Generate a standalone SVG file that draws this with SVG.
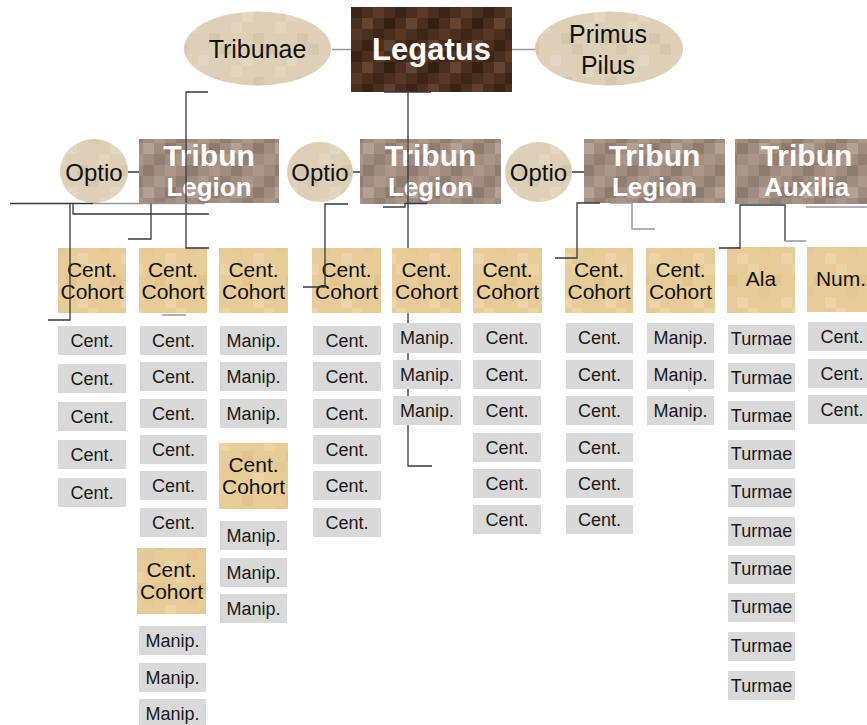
<svg xmlns="http://www.w3.org/2000/svg" width="867" height="725" viewBox="0 0 867 725">
<defs>
<pattern id="pLeg" patternUnits="userSpaceOnUse" x="351" y="7" width="44" height="44">
<rect width="44" height="44" fill="#4a2f1e"/>
<rect x="0" y="0" width="11" height="11" fill="#3b2416"/><rect x="22" y="0" width="11" height="11" fill="#5b3b26"/>
<rect x="11" y="11" width="11" height="11" fill="#654430"/><rect x="33" y="11" width="11" height="11" fill="#34200f"/>
<rect x="0" y="22" width="11" height="11" fill="#573824"/><rect x="22" y="22" width="11" height="11" fill="#3d2617"/>
<rect x="11" y="33" width="11" height="11" fill="#3a2313"/><rect x="33" y="33" width="11" height="11" fill="#604030"/>
</pattern>
<pattern id="pTrib" patternUnits="userSpaceOnUse" width="44" height="44">
<rect width="44" height="44" fill="#a08d80"/>
<rect x="0" y="0" width="11" height="11" fill="#917e72"/><rect x="22" y="0" width="11" height="11" fill="#ac998c"/>
<rect x="11" y="11" width="11" height="11" fill="#b3a195"/><rect x="33" y="11" width="11" height="11" fill="#8e7a6e"/>
<rect x="0" y="22" width="11" height="11" fill="#a99689"/><rect x="22" y="22" width="11" height="11" fill="#937f73"/>
<rect x="11" y="33" width="11" height="11" fill="#8f7c70"/><rect x="33" y="33" width="11" height="11" fill="#ab988b"/>
</pattern>
<pattern id="pOval" patternUnits="userSpaceOnUse" width="44" height="44">
<rect width="44" height="44" fill="#ddd0b6"/>
<rect x="0" y="0" width="11" height="11" fill="#d6c8ad"/><rect x="22" y="11" width="11" height="11" fill="#e3d7c1"/>
<rect x="11" y="22" width="11" height="11" fill="#e2d6bf"/><rect x="33" y="33" width="11" height="11" fill="#d5c7ab"/>
</pattern>
<pattern id="pCoh" patternUnits="userSpaceOnUse" width="44" height="44">
<rect width="44" height="44" fill="#e8cc97"/>
<rect x="0" y="0" width="11" height="11" fill="#ecd3a2"/><rect x="22" y="11" width="11" height="11" fill="#e3c48c"/>
<rect x="11" y="22" width="11" height="11" fill="#e5c995"/><rect x="33" y="33" width="11" height="11" fill="#edd4a6"/>
</pattern>
</defs>
<style>
text{font-family:"Liberation Sans",Arial,sans-serif;text-anchor:middle}
.oval{fill:url(#pOval)}
.leg{fill:url(#pLeg)}
.trib{fill:url(#pTrib)}
.coh{fill:url(#pCoh)}
.leaf{fill:#d9d9d9}
.t1{font-size:25px;fill:#111}
.t2{font-size:24px;fill:#111}
.tw{font-weight:bold;fill:#fff}
.tc{font-size:21px;fill:#111}
.tl{font-size:18px;fill:#1a1a1a}
.c{fill:none;stroke:#3a3a3a;stroke-width:1.3}
.g{fill:none;stroke:#999;stroke-width:1.5}
</style>
<rect width="867" height="725" fill="#fff"/>
<g id="legatus"><rect class="leg" x="351" y="7" width="161" height="85"/><text class="tw" x="431.5" y="60" font-size="31">Legatus</text></g>
<g id="tribunae"><ellipse class="oval" cx="257.5" cy="48.5" rx="73.5" ry="37"/><text class="t1" x="257.5" y="58">Tribunae</text></g>
<g id="primus-pilus"><ellipse class="oval" cx="609" cy="48.5" rx="74" ry="37"/><text class="t1" x="608" y="43">Primus</text><text class="t1" x="608" y="74">Pilus</text></g>

<g id="optio-1"><ellipse class="oval" cx="94" cy="171" rx="34" ry="32"/><text class="t2" x="94" y="181">Optio</text></g>
<g id="tribun-legion-1"><rect class="trib" x="139" y="139" width="140" height="64"/><text class="tw" x="209" y="166" font-size="30">Tribun</text><text class="tw" x="209" y="196" font-size="26">Legion</text></g>
<g id="optio-2"><ellipse class="oval" cx="320" cy="172" rx="33" ry="30"/><text class="t2" x="320" y="181">Optio</text></g>
<g id="tribun-legion-2"><rect class="trib" x="360" y="139" width="141" height="65"/><text class="tw" x="430.5" y="166" font-size="30">Tribun</text><text class="tw" x="430.5" y="196" font-size="26">Legion</text></g>
<g id="optio-3"><ellipse class="oval" cx="538.5" cy="172" rx="33.5" ry="30"/><text class="t2" x="538.5" y="181">Optio</text></g>
<g id="tribun-legion-3"><rect class="trib" x="584" y="139" width="141" height="64"/><text class="tw" x="654.5" y="166" font-size="30">Tribun</text><text class="tw" x="654.5" y="196" font-size="26">Legion</text></g>
<g id="tribun-auxilia"><rect class="trib" x="735" y="139" width="143" height="65"/><text class="tw" x="806.5" y="166" font-size="30">Tribun</text><text class="tw" x="806.5" y="196" font-size="26">Auxilia</text></g>

<g id="cohort-1"><rect class="coh" x="58" y="248" width="68" height="65"/><text class="tc" x="92" y="277">Cent.</text><text class="tc" x="92" y="299">Cohort</text></g>
<g id="cohort-2"><rect class="coh" x="139" y="248" width="68" height="65"/><text class="tc" x="173" y="277">Cent.</text><text class="tc" x="173" y="299">Cohort</text></g>
<g id="cohort-3"><rect class="coh" x="219" y="248" width="69" height="65"/><text class="tc" x="253.5" y="277">Cent.</text><text class="tc" x="253.5" y="299">Cohort</text></g>
<g id="cohort-4"><rect class="coh" x="312" y="248" width="69" height="65"/><text class="tc" x="346.5" y="277">Cent.</text><text class="tc" x="346.5" y="299">Cohort</text></g>
<g id="cohort-5"><rect class="coh" x="392" y="248" width="69" height="65"/><text class="tc" x="426.5" y="277">Cent.</text><text class="tc" x="426.5" y="299">Cohort</text></g>
<g id="cohort-6"><rect class="coh" x="473" y="248" width="69" height="65"/><text class="tc" x="507.5" y="277">Cent.</text><text class="tc" x="507.5" y="299">Cohort</text></g>
<g id="cohort-7"><rect class="coh" x="565" y="248" width="68" height="65"/><text class="tc" x="599" y="277">Cent.</text><text class="tc" x="599" y="299">Cohort</text></g>
<g id="cohort-8"><rect class="coh" x="646" y="248" width="69" height="65"/><text class="tc" x="680.5" y="277">Cent.</text><text class="tc" x="680.5" y="299">Cohort</text></g>
<g id="ala"><rect class="coh" x="727" y="247" width="68" height="66"/><text class="tc" x="761" y="286">Ala</text></g>
<g id="numerus"><rect class="coh" x="807" y="247" width="68" height="65"/><text class="tc" x="841" y="286">Num.</text></g>
<g id="cohort-2b"><rect class="coh" x="137" y="548" width="69" height="66"/><text class="tc" x="171.5" y="577">Cent.</text><text class="tc" x="171.5" y="599">Cohort</text></g>
<g id="cohort-3b"><rect class="coh" x="219" y="443" width="69" height="66"/><text class="tc" x="253.5" y="472">Cent.</text><text class="tc" x="253.5" y="494">Cohort</text></g>

<g id="col1-leaves">
<g id="c1-1"><rect class="leaf" x="58" y="326" width="68" height="29"/><text class="tl" x="92" y="347">Cent.</text></g>
<g id="c1-2"><rect class="leaf" x="58" y="364" width="68" height="29"/><text class="tl" x="92" y="385">Cent.</text></g>
<g id="c1-3"><rect class="leaf" x="58" y="402" width="68" height="29"/><text class="tl" x="92" y="423">Cent.</text></g>
<g id="c1-4"><rect class="leaf" x="58" y="440" width="68" height="29"/><text class="tl" x="92" y="461">Cent.</text></g>
<g id="c1-5"><rect class="leaf" x="58" y="478" width="68" height="29"/><text class="tl" x="92" y="499">Cent.</text></g>
</g>
<g id="col2-leaves">
<g id="c2-1"><rect class="leaf" x="140" y="326" width="67" height="29"/><text class="tl" x="173.5" y="347">Cent.</text></g>
<g id="c2-2"><rect class="leaf" x="140" y="362" width="67" height="29"/><text class="tl" x="173.5" y="383">Cent.</text></g>
<g id="c2-3"><rect class="leaf" x="140" y="399" width="67" height="29"/><text class="tl" x="173.5" y="420">Cent.</text></g>
<g id="c2-4"><rect class="leaf" x="140" y="435" width="67" height="29"/><text class="tl" x="173.5" y="456">Cent.</text></g>
<g id="c2-5"><rect class="leaf" x="140" y="471" width="67" height="29"/><text class="tl" x="173.5" y="492">Cent.</text></g>
<g id="c2-6"><rect class="leaf" x="140" y="508" width="67" height="29"/><text class="tl" x="173.5" y="529">Cent.</text></g>
<g id="c2-7"><rect class="leaf" x="139" y="626" width="67" height="29"/><text class="tl" x="172.5" y="647">Manip.</text></g>
<g id="c2-8"><rect class="leaf" x="139" y="663" width="67" height="29"/><text class="tl" x="172.5" y="684">Manip.</text></g>
<g id="c2-9"><rect class="leaf" x="139" y="699" width="67" height="29"/><text class="tl" x="172.5" y="720">Manip.</text></g>
</g>
<g id="col3-leaves">
<g id="c3-1"><rect class="leaf" x="220" y="326" width="67" height="29"/><text class="tl" x="253.5" y="347">Manip.</text></g>
<g id="c3-2"><rect class="leaf" x="220" y="362" width="67" height="29"/><text class="tl" x="253.5" y="383">Manip.</text></g>
<g id="c3-3"><rect class="leaf" x="220" y="399" width="67" height="29"/><text class="tl" x="253.5" y="420">Manip.</text></g>
<g id="c3-4"><rect class="leaf" x="220" y="521" width="67" height="29"/><text class="tl" x="253.5" y="542">Manip.</text></g>
<g id="c3-5"><rect class="leaf" x="220" y="558" width="67" height="29"/><text class="tl" x="253.5" y="579">Manip.</text></g>
<g id="c3-6"><rect class="leaf" x="220" y="594" width="67" height="29"/><text class="tl" x="253.5" y="615">Manip.</text></g>
</g>
<g id="col4-leaves">
<g id="c4-1"><rect class="leaf" x="313" y="326" width="68" height="29"/><text class="tl" x="347" y="347">Cent.</text></g>
<g id="c4-2"><rect class="leaf" x="313" y="362" width="68" height="29"/><text class="tl" x="347" y="383">Cent.</text></g>
<g id="c4-3"><rect class="leaf" x="313" y="399" width="68" height="29"/><text class="tl" x="347" y="420">Cent.</text></g>
<g id="c4-4"><rect class="leaf" x="313" y="435" width="68" height="29"/><text class="tl" x="347" y="456">Cent.</text></g>
<g id="c4-5"><rect class="leaf" x="313" y="471" width="68" height="29"/><text class="tl" x="347" y="492">Cent.</text></g>
<g id="c4-6"><rect class="leaf" x="313" y="508" width="68" height="29"/><text class="tl" x="347" y="529">Cent.</text></g>
</g>
<g id="col5-leaves">
<g id="c5-1"><rect class="leaf" x="393" y="323" width="68" height="30"/><text class="tl" x="427" y="344">Manip.</text></g>
<g id="c5-2"><rect class="leaf" x="393" y="360" width="68" height="29"/><text class="tl" x="427" y="381">Manip.</text></g>
<g id="c5-3"><rect class="leaf" x="393" y="396" width="68" height="29"/><text class="tl" x="427" y="417">Manip.</text></g>
</g>
<g id="col6-leaves">
<g id="c6-1"><rect class="leaf" x="473" y="323" width="68" height="30"/><text class="tl" x="507" y="344">Cent.</text></g>
<g id="c6-2"><rect class="leaf" x="473" y="360" width="68" height="29"/><text class="tl" x="507" y="381">Cent.</text></g>
<g id="c6-3"><rect class="leaf" x="473" y="396" width="68" height="29"/><text class="tl" x="507" y="417">Cent.</text></g>
<g id="c6-4"><rect class="leaf" x="473" y="433" width="68" height="29"/><text class="tl" x="507" y="454">Cent.</text></g>
<g id="c6-5"><rect class="leaf" x="473" y="469" width="68" height="29"/><text class="tl" x="507" y="490">Cent.</text></g>
<g id="c6-6"><rect class="leaf" x="473" y="505" width="68" height="29"/><text class="tl" x="507" y="526">Cent.</text></g>
</g>
<g id="col7-leaves">
<g id="c7-1"><rect class="leaf" x="566" y="323" width="67" height="30"/><text class="tl" x="599.5" y="344">Cent.</text></g>
<g id="c7-2"><rect class="leaf" x="566" y="360" width="67" height="29"/><text class="tl" x="599.5" y="381">Cent.</text></g>
<g id="c7-3"><rect class="leaf" x="566" y="396" width="67" height="29"/><text class="tl" x="599.5" y="417">Cent.</text></g>
<g id="c7-4"><rect class="leaf" x="566" y="433" width="67" height="29"/><text class="tl" x="599.5" y="454">Cent.</text></g>
<g id="c7-5"><rect class="leaf" x="566" y="469" width="67" height="29"/><text class="tl" x="599.5" y="490">Cent.</text></g>
<g id="c7-6"><rect class="leaf" x="566" y="505" width="67" height="29"/><text class="tl" x="599.5" y="526">Cent.</text></g>
</g>
<g id="col8-leaves">
<g id="c8-1"><rect class="leaf" x="647" y="323" width="67" height="30"/><text class="tl" x="680.5" y="344">Manip.</text></g>
<g id="c8-2"><rect class="leaf" x="647" y="360" width="67" height="29"/><text class="tl" x="680.5" y="381">Manip.</text></g>
<g id="c8-3"><rect class="leaf" x="647" y="396" width="67" height="29"/><text class="tl" x="680.5" y="417">Manip.</text></g>
</g>
<g id="col9-leaves">
<g id="t-1"><rect class="leaf" x="728" y="325" width="67" height="29"/><text class="tl" x="761.5" y="345">Turmae</text></g>
<g id="t-2"><rect class="leaf" x="728" y="363" width="67" height="29"/><text class="tl" x="761.5" y="384">Turmae</text></g>
<g id="t-3"><rect class="leaf" x="728" y="401" width="67" height="29"/><text class="tl" x="761.5" y="422">Turmae</text></g>
<g id="t-4"><rect class="leaf" x="728" y="440" width="67" height="29"/><text class="tl" x="761.5" y="460">Turmae</text></g>
<g id="t-5"><rect class="leaf" x="728" y="478" width="67" height="29"/><text class="tl" x="761.5" y="498">Turmae</text></g>
<g id="t-6"><rect class="leaf" x="728" y="517" width="67" height="29"/><text class="tl" x="761.5" y="537">Turmae</text></g>
<g id="t-7"><rect class="leaf" x="728" y="555" width="67" height="29"/><text class="tl" x="761.5" y="575">Turmae</text></g>
<g id="t-8"><rect class="leaf" x="728" y="593" width="67" height="29"/><text class="tl" x="761.5" y="613">Turmae</text></g>
<g id="t-9"><rect class="leaf" x="728" y="632" width="67" height="29"/><text class="tl" x="761.5" y="652">Turmae</text></g>
<g id="t-10"><rect class="leaf" x="728" y="671" width="67" height="29"/><text class="tl" x="761.5" y="692">Turmae</text></g>
</g>
<g id="col10-leaves">
<g id="c10-1"><rect class="leaf" x="808" y="322" width="68" height="29"/><text class="tl" x="842" y="343">Cent.</text></g>
<g id="c10-2"><rect class="leaf" x="808" y="359" width="68" height="29"/><text class="tl" x="842" y="380">Cent.</text></g>
<g id="c10-3"><rect class="leaf" x="808" y="395" width="68" height="29"/><text class="tl" x="842" y="416">Cent.</text></g>
</g>

<g id="connectors">
<path class="g" d="M332 49.5H351M512 49.5H535"/>
<path class="c" d="M208 92H186V248H209"/>
<path class="c" d="M384 92H431M408 92V248M408 313V323M408 353V360M408 389V396M408 425V466H432"/>
<path class="c" d="M128 172H139M353 172H360M572 172H584"/>
<path class="c" d="M10 203.5H93"/>
<path class="g" d="M93 203.5H205"/>
<path class="c" d="M48 320H70V203.5"/>
<path class="c" d="M73 203.5V214H209"/>
<path class="c" d="M128 239H151V203.5"/>
<path class="g" d="M162 315H186" stroke-width="2"/>
<path class="c" d="M348 204H325V287H303"/>
<path class="c" d="M383 207H405V203.5H427"/>
<path class="c" d="M555 258H577V203H600"/>
<path class="g" d="M610 203H632V229H655"/>
<path class="c" d="M719 248H740V205H785V241"/>
<path class="g" d="M785 241H806M806 207H867"/>
</g>
</svg>
